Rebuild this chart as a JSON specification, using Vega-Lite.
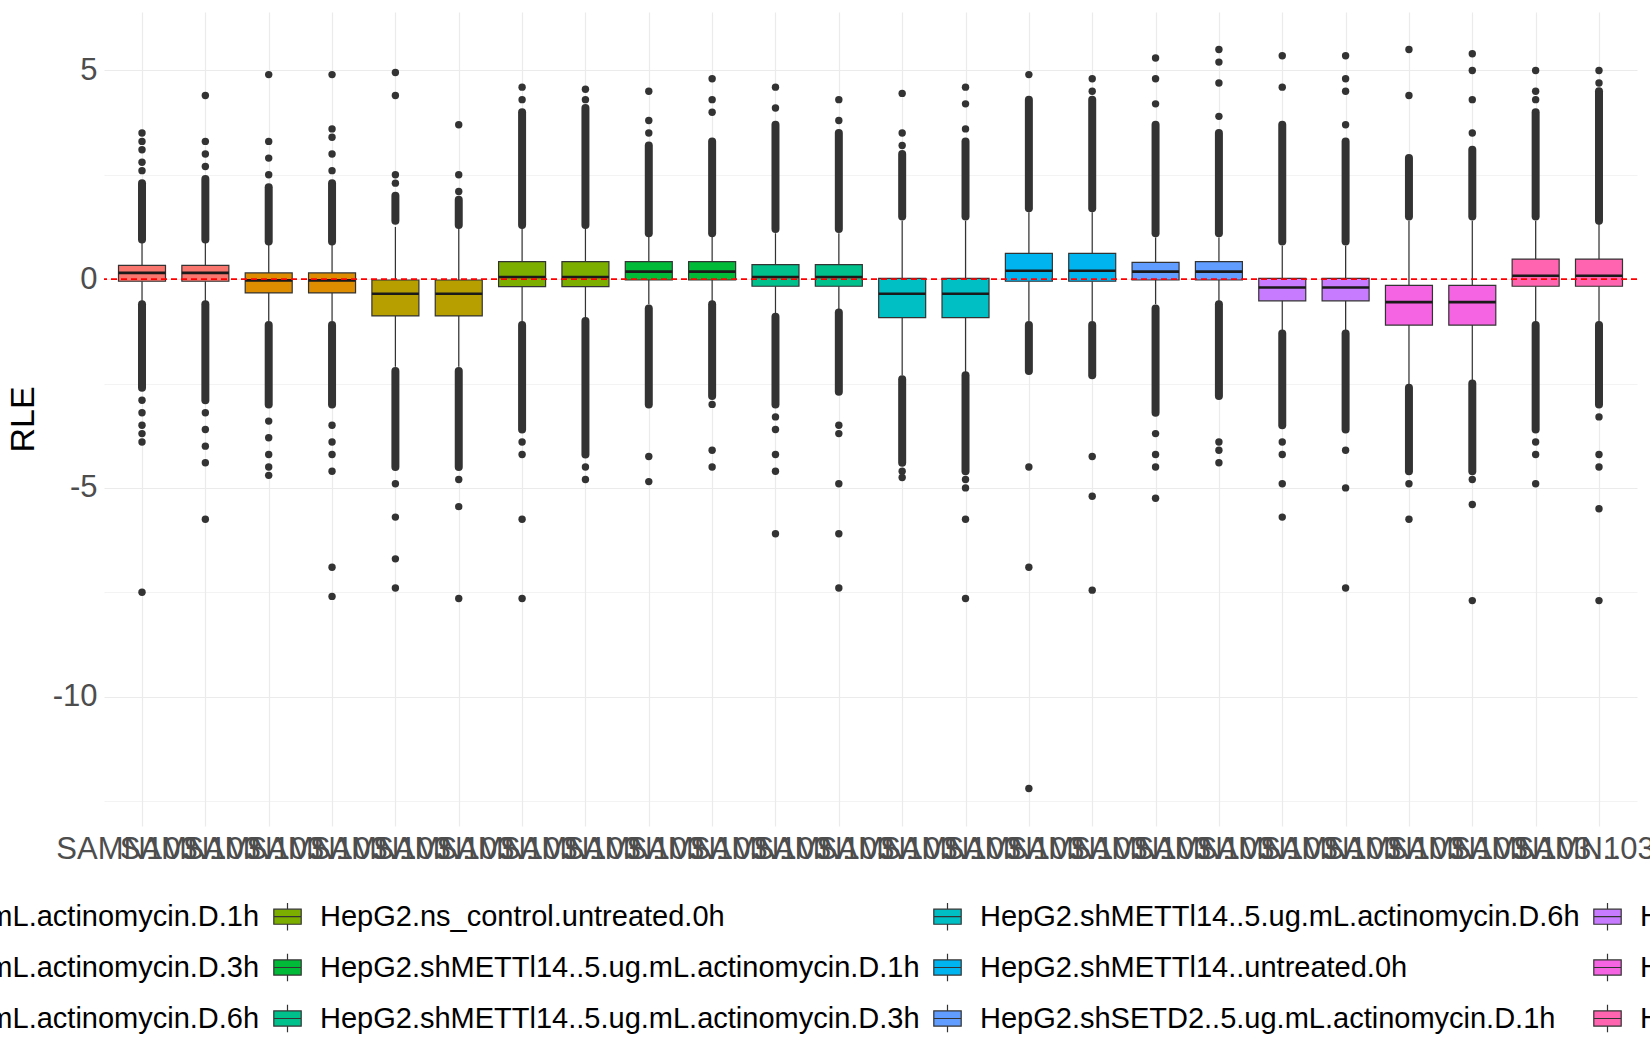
{
  "$schema": "https://vega.github.io/schema/vega-lite/v6.json",
  "width": 1533,
  "height": 814,
  "autosize": {"type": "none"},
  "padding": {"left": 104, "top": 12, "right": 13, "bottom": 224},
  "background": "white",
  "config": {
    "font": "Liberation Sans",
    "view": {"stroke": null}
  },
  "datasets": {
    "stats": [
      {"sample": "SAMN1033590101", "group": "HepG2.ns_control..5.ug.mL.actinomycin.D.1h", "lo": -0.55, "q1": -0.05, "med": 0.15, "q3": 0.33, "hi": 0.9},
      {"sample": "SAMN1033590102", "group": "HepG2.ns_control..5.ug.mL.actinomycin.D.1h", "lo": -0.55, "q1": -0.05, "med": 0.15, "q3": 0.33, "hi": 0.9},
      {"sample": "SAMN1033590103", "group": "HepG2.ns_control..5.ug.mL.actinomycin.D.3h", "lo": -1.0, "q1": -0.33, "med": -0.03, "q3": 0.15, "hi": 0.85},
      {"sample": "SAMN1033590104", "group": "HepG2.ns_control..5.ug.mL.actinomycin.D.3h", "lo": -1.0, "q1": -0.33, "med": -0.03, "q3": 0.15, "hi": 0.85},
      {"sample": "SAMN1033590105", "group": "HepG2.ns_control..5.ug.mL.actinomycin.D.6h", "lo": -2.1, "q1": -0.88, "med": -0.35, "q3": -0.02, "hi": 1.25},
      {"sample": "SAMN1033590106", "group": "HepG2.ns_control..5.ug.mL.actinomycin.D.6h", "lo": -2.1, "q1": -0.88, "med": -0.35, "q3": -0.02, "hi": 1.25},
      {"sample": "SAMN1033590107", "group": "HepG2.ns_control.untreated.0h", "lo": -1.05, "q1": -0.18, "med": 0.05, "q3": 0.42, "hi": 1.3},
      {"sample": "SAMN1033590108", "group": "HepG2.ns_control.untreated.0h", "lo": -1.0, "q1": -0.18, "med": 0.05, "q3": 0.42, "hi": 1.3},
      {"sample": "SAMN1033590109", "group": "HepG2.shMETTl14..5.ug.mL.actinomycin.D.1h", "lo": -0.6, "q1": -0.02, "med": 0.18, "q3": 0.42, "hi": 1.05},
      {"sample": "SAMN1033590110", "group": "HepG2.shMETTl14..5.ug.mL.actinomycin.D.1h", "lo": -0.6, "q1": -0.02, "med": 0.18, "q3": 0.42, "hi": 1.05},
      {"sample": "SAMN1033590111", "group": "HepG2.shMETTl14..5.ug.mL.actinomycin.D.3h", "lo": -0.9, "q1": -0.17, "med": 0.05, "q3": 0.35, "hi": 1.1},
      {"sample": "SAMN1033590112", "group": "HepG2.shMETTl14..5.ug.mL.actinomycin.D.3h", "lo": -0.8, "q1": -0.17, "med": 0.05, "q3": 0.35, "hi": 1.1},
      {"sample": "SAMN1033590113", "group": "HepG2.shMETTl14..5.ug.mL.actinomycin.D.6h", "lo": -2.3, "q1": -0.92, "med": -0.35, "q3": 0.02, "hi": 1.4},
      {"sample": "SAMN1033590114", "group": "HepG2.shMETTl14..5.ug.mL.actinomycin.D.6h", "lo": -2.3, "q1": -0.92, "med": -0.35, "q3": 0.02, "hi": 1.4},
      {"sample": "SAMN1033590115", "group": "HepG2.shMETTl14..untreated.0h", "lo": -1.0, "q1": -0.05, "med": 0.2, "q3": 0.62, "hi": 1.6},
      {"sample": "SAMN1033590116", "group": "HepG2.shMETTl14..untreated.0h", "lo": -1.0, "q1": -0.05, "med": 0.2, "q3": 0.62, "hi": 1.6},
      {"sample": "SAMN1033590117", "group": "HepG2.shSETD2..5.ug.mL.actinomycin.D.1h", "lo": -0.6, "q1": -0.02, "med": 0.18, "q3": 0.4, "hi": 1.0},
      {"sample": "SAMN1033590118", "group": "HepG2.shSETD2..5.ug.mL.actinomycin.D.1h", "lo": -0.6, "q1": -0.02, "med": 0.18, "q3": 0.42, "hi": 1.0},
      {"sample": "SAMN1033590119", "group": "HepG2.shSETD2..5.ug.mL.actinomycin.D.3h", "lo": -1.3, "q1": -0.52, "med": -0.2, "q3": 0.02, "hi": 0.8},
      {"sample": "SAMN1033590120", "group": "HepG2.shSETD2..5.ug.mL.actinomycin.D.3h", "lo": -1.3, "q1": -0.52, "med": -0.2, "q3": 0.02, "hi": 0.8},
      {"sample": "SAMN1033590121", "group": "HepG2.shSETD2..5.ug.mL.actinomycin.D.6h", "lo": -2.55, "q1": -1.1, "med": -0.55, "q3": -0.15, "hi": 1.4},
      {"sample": "SAMN1033590122", "group": "HepG2.shSETD2..5.ug.mL.actinomycin.D.6h", "lo": -2.5, "q1": -1.1, "med": -0.55, "q3": -0.15, "hi": 1.4},
      {"sample": "SAMN1033590123", "group": "HepG2.shSETD2..untreated.0h", "lo": -1.1, "q1": -0.17, "med": 0.08, "q3": 0.48, "hi": 1.4},
      {"sample": "SAMN1033590124", "group": "HepG2.shSETD2..untreated.0h", "lo": -1.1, "q1": -0.17, "med": 0.08, "q3": 0.48, "hi": 1.4}
    ],
    "bands": [
      {"sample": "SAMN1033590101", "a": 0.95, "b": 2.3}, {"sample": "SAMN1033590101", "a": -0.6, "b": -2.6},
      {"sample": "SAMN1033590102", "a": 0.95, "b": 2.4}, {"sample": "SAMN1033590102", "a": -0.6, "b": -2.9},
      {"sample": "SAMN1033590103", "a": 0.9, "b": 2.2}, {"sample": "SAMN1033590103", "a": -1.1, "b": -3.0},
      {"sample": "SAMN1033590104", "a": 0.9, "b": 2.3}, {"sample": "SAMN1033590104", "a": -1.1, "b": -3.0},
      {"sample": "SAMN1033590105", "a": 1.4, "b": 2.0}, {"sample": "SAMN1033590105", "a": -2.2, "b": -4.5},
      {"sample": "SAMN1033590106", "a": 1.3, "b": 1.9}, {"sample": "SAMN1033590106", "a": -2.2, "b": -4.5},
      {"sample": "SAMN1033590107", "a": 1.3, "b": 4.0}, {"sample": "SAMN1033590107", "a": -1.1, "b": -3.6},
      {"sample": "SAMN1033590108", "a": 1.3, "b": 4.1}, {"sample": "SAMN1033590108", "a": -1.0, "b": -4.2},
      {"sample": "SAMN1033590109", "a": 1.1, "b": 3.2}, {"sample": "SAMN1033590109", "a": -0.7, "b": -3.0},
      {"sample": "SAMN1033590110", "a": 1.1, "b": 3.3}, {"sample": "SAMN1033590110", "a": -0.6, "b": -2.8},
      {"sample": "SAMN1033590111", "a": 1.2, "b": 3.7}, {"sample": "SAMN1033590111", "a": -0.9, "b": -3.0},
      {"sample": "SAMN1033590112", "a": 1.2, "b": 3.5}, {"sample": "SAMN1033590112", "a": -0.8, "b": -2.7},
      {"sample": "SAMN1033590113", "a": 1.5, "b": 3.0}, {"sample": "SAMN1033590113", "a": -2.4, "b": -4.4},
      {"sample": "SAMN1033590114", "a": 1.5, "b": 3.3}, {"sample": "SAMN1033590114", "a": -2.3, "b": -4.6},
      {"sample": "SAMN1033590115", "a": 1.7, "b": 4.3}, {"sample": "SAMN1033590115", "a": -1.1, "b": -2.2},
      {"sample": "SAMN1033590116", "a": 1.7, "b": 4.3}, {"sample": "SAMN1033590116", "a": -1.1, "b": -2.3},
      {"sample": "SAMN1033590117", "a": 1.1, "b": 3.7}, {"sample": "SAMN1033590117", "a": -0.7, "b": -3.2},
      {"sample": "SAMN1033590118", "a": 1.1, "b": 3.5}, {"sample": "SAMN1033590118", "a": -0.6, "b": -2.8},
      {"sample": "SAMN1033590119", "a": 0.9, "b": 3.7}, {"sample": "SAMN1033590119", "a": -1.3, "b": -3.5},
      {"sample": "SAMN1033590120", "a": 0.9, "b": 3.3}, {"sample": "SAMN1033590120", "a": -1.3, "b": -3.6},
      {"sample": "SAMN1033590121", "a": 1.5, "b": 2.9}, {"sample": "SAMN1033590121", "a": -2.6, "b": -4.6},
      {"sample": "SAMN1033590122", "a": 1.5, "b": 3.1}, {"sample": "SAMN1033590122", "a": -2.5, "b": -4.6},
      {"sample": "SAMN1033590123", "a": 1.5, "b": 4.0}, {"sample": "SAMN1033590123", "a": -1.1, "b": -3.6},
      {"sample": "SAMN1033590124", "a": 1.4, "b": 4.5}, {"sample": "SAMN1033590124", "a": -1.1, "b": -3.0}
    ],
    "outliers": [
      {"sample": "SAMN1033590101", "v": 2.6}, {"sample": "SAMN1033590101", "v": 2.8}, {"sample": "SAMN1033590101", "v": 3.1}, {"sample": "SAMN1033590101", "v": 3.3}, {"sample": "SAMN1033590101", "v": 3.5},
      {"sample": "SAMN1033590101", "v": -2.9}, {"sample": "SAMN1033590101", "v": -3.2}, {"sample": "SAMN1033590101", "v": -3.5}, {"sample": "SAMN1033590101", "v": -3.7}, {"sample": "SAMN1033590101", "v": -3.9}, {"sample": "SAMN1033590101", "v": -7.5},
      {"sample": "SAMN1033590102", "v": 2.7}, {"sample": "SAMN1033590102", "v": 3.0}, {"sample": "SAMN1033590102", "v": 3.3}, {"sample": "SAMN1033590102", "v": 4.4},
      {"sample": "SAMN1033590102", "v": -3.2}, {"sample": "SAMN1033590102", "v": -3.6}, {"sample": "SAMN1033590102", "v": -4.0}, {"sample": "SAMN1033590102", "v": -4.4}, {"sample": "SAMN1033590102", "v": -5.75},
      {"sample": "SAMN1033590103", "v": 2.5}, {"sample": "SAMN1033590103", "v": 2.9}, {"sample": "SAMN1033590103", "v": 3.3}, {"sample": "SAMN1033590103", "v": 4.9},
      {"sample": "SAMN1033590103", "v": -3.4}, {"sample": "SAMN1033590103", "v": -3.8}, {"sample": "SAMN1033590103", "v": -4.2}, {"sample": "SAMN1033590103", "v": -4.5}, {"sample": "SAMN1033590103", "v": -4.7},
      {"sample": "SAMN1033590104", "v": 2.6}, {"sample": "SAMN1033590104", "v": 3.0}, {"sample": "SAMN1033590104", "v": 3.4}, {"sample": "SAMN1033590104", "v": 3.6}, {"sample": "SAMN1033590104", "v": 4.9},
      {"sample": "SAMN1033590104", "v": -3.5}, {"sample": "SAMN1033590104", "v": -3.9}, {"sample": "SAMN1033590104", "v": -4.2}, {"sample": "SAMN1033590104", "v": -4.6}, {"sample": "SAMN1033590104", "v": -6.9}, {"sample": "SAMN1033590104", "v": -7.6},
      {"sample": "SAMN1033590105", "v": 2.3}, {"sample": "SAMN1033590105", "v": 2.5}, {"sample": "SAMN1033590105", "v": 4.4}, {"sample": "SAMN1033590105", "v": 4.95},
      {"sample": "SAMN1033590105", "v": -4.9}, {"sample": "SAMN1033590105", "v": -5.7}, {"sample": "SAMN1033590105", "v": -6.7}, {"sample": "SAMN1033590105", "v": -7.4},
      {"sample": "SAMN1033590106", "v": 2.1}, {"sample": "SAMN1033590106", "v": 2.5}, {"sample": "SAMN1033590106", "v": 3.7},
      {"sample": "SAMN1033590106", "v": -4.8}, {"sample": "SAMN1033590106", "v": -5.45}, {"sample": "SAMN1033590106", "v": -7.65},
      {"sample": "SAMN1033590107", "v": 4.3}, {"sample": "SAMN1033590107", "v": 4.6},
      {"sample": "SAMN1033590107", "v": -3.9}, {"sample": "SAMN1033590107", "v": -4.2}, {"sample": "SAMN1033590107", "v": -5.75}, {"sample": "SAMN1033590107", "v": -7.65},
      {"sample": "SAMN1033590108", "v": 4.3}, {"sample": "SAMN1033590108", "v": 4.55},
      {"sample": "SAMN1033590108", "v": -4.5}, {"sample": "SAMN1033590108", "v": -4.8},
      {"sample": "SAMN1033590109", "v": 3.5}, {"sample": "SAMN1033590109", "v": 3.8}, {"sample": "SAMN1033590109", "v": 4.5},
      {"sample": "SAMN1033590109", "v": -4.25}, {"sample": "SAMN1033590109", "v": -4.85},
      {"sample": "SAMN1033590110", "v": 4.0}, {"sample": "SAMN1033590110", "v": 4.3}, {"sample": "SAMN1033590110", "v": 4.8},
      {"sample": "SAMN1033590110", "v": -3.0}, {"sample": "SAMN1033590110", "v": -4.1}, {"sample": "SAMN1033590110", "v": -4.5},
      {"sample": "SAMN1033590111", "v": 4.1}, {"sample": "SAMN1033590111", "v": 4.6},
      {"sample": "SAMN1033590111", "v": -3.3}, {"sample": "SAMN1033590111", "v": -3.6}, {"sample": "SAMN1033590111", "v": -4.2}, {"sample": "SAMN1033590111", "v": -4.6}, {"sample": "SAMN1033590111", "v": -6.1},
      {"sample": "SAMN1033590112", "v": 3.8}, {"sample": "SAMN1033590112", "v": 4.3},
      {"sample": "SAMN1033590112", "v": -3.5}, {"sample": "SAMN1033590112", "v": -3.7}, {"sample": "SAMN1033590112", "v": -4.9}, {"sample": "SAMN1033590112", "v": -6.1}, {"sample": "SAMN1033590112", "v": -7.4},
      {"sample": "SAMN1033590113", "v": 3.2}, {"sample": "SAMN1033590113", "v": 3.5}, {"sample": "SAMN1033590113", "v": 4.45},
      {"sample": "SAMN1033590113", "v": -4.6}, {"sample": "SAMN1033590113", "v": -4.75},
      {"sample": "SAMN1033590114", "v": 3.6}, {"sample": "SAMN1033590114", "v": 4.2}, {"sample": "SAMN1033590114", "v": 4.6},
      {"sample": "SAMN1033590114", "v": -4.8}, {"sample": "SAMN1033590114", "v": -5.0}, {"sample": "SAMN1033590114", "v": -5.75}, {"sample": "SAMN1033590114", "v": -7.65},
      {"sample": "SAMN1033590115", "v": 4.9},
      {"sample": "SAMN1033590115", "v": -4.5}, {"sample": "SAMN1033590115", "v": -6.9}, {"sample": "SAMN1033590115", "v": -12.2},
      {"sample": "SAMN1033590116", "v": 4.5}, {"sample": "SAMN1033590116", "v": 4.8},
      {"sample": "SAMN1033590116", "v": -4.25}, {"sample": "SAMN1033590116", "v": -5.2}, {"sample": "SAMN1033590116", "v": -7.45},
      {"sample": "SAMN1033590117", "v": 4.2}, {"sample": "SAMN1033590117", "v": 4.8}, {"sample": "SAMN1033590117", "v": 5.3},
      {"sample": "SAMN1033590117", "v": -3.7}, {"sample": "SAMN1033590117", "v": -4.2}, {"sample": "SAMN1033590117", "v": -4.5}, {"sample": "SAMN1033590117", "v": -5.25},
      {"sample": "SAMN1033590118", "v": 3.9}, {"sample": "SAMN1033590118", "v": 4.7}, {"sample": "SAMN1033590118", "v": 5.2}, {"sample": "SAMN1033590118", "v": 5.5},
      {"sample": "SAMN1033590118", "v": -3.9}, {"sample": "SAMN1033590118", "v": -4.1}, {"sample": "SAMN1033590118", "v": -4.4},
      {"sample": "SAMN1033590119", "v": 4.6}, {"sample": "SAMN1033590119", "v": 5.35},
      {"sample": "SAMN1033590119", "v": -3.9}, {"sample": "SAMN1033590119", "v": -4.2}, {"sample": "SAMN1033590119", "v": -4.9}, {"sample": "SAMN1033590119", "v": -5.7},
      {"sample": "SAMN1033590120", "v": 3.7}, {"sample": "SAMN1033590120", "v": 4.5}, {"sample": "SAMN1033590120", "v": 4.8}, {"sample": "SAMN1033590120", "v": 5.35},
      {"sample": "SAMN1033590120", "v": -4.1}, {"sample": "SAMN1033590120", "v": -5.0}, {"sample": "SAMN1033590120", "v": -7.4},
      {"sample": "SAMN1033590121", "v": 4.4}, {"sample": "SAMN1033590121", "v": 5.5},
      {"sample": "SAMN1033590121", "v": -4.9}, {"sample": "SAMN1033590121", "v": -5.75},
      {"sample": "SAMN1033590122", "v": 3.5}, {"sample": "SAMN1033590122", "v": 4.3}, {"sample": "SAMN1033590122", "v": 5.0}, {"sample": "SAMN1033590122", "v": 5.4},
      {"sample": "SAMN1033590122", "v": -4.8}, {"sample": "SAMN1033590122", "v": -5.4}, {"sample": "SAMN1033590122", "v": -7.7},
      {"sample": "SAMN1033590123", "v": 4.3}, {"sample": "SAMN1033590123", "v": 4.5}, {"sample": "SAMN1033590123", "v": 5.0},
      {"sample": "SAMN1033590123", "v": -3.9}, {"sample": "SAMN1033590123", "v": -4.2}, {"sample": "SAMN1033590123", "v": -4.9},
      {"sample": "SAMN1033590124", "v": 4.7}, {"sample": "SAMN1033590124", "v": 5.0},
      {"sample": "SAMN1033590124", "v": -3.3}, {"sample": "SAMN1033590124", "v": -4.2}, {"sample": "SAMN1033590124", "v": -4.5}, {"sample": "SAMN1033590124", "v": -5.5}, {"sample": "SAMN1033590124", "v": -7.7}
    ]
  },
  "layer": [
    {
      "data": {"name": "stats"},
      "mark": {"type": "rule", "color": "#333333", "strokeWidth": 1.2},
      "encoding": {
        "x": {
          "field": "sample", "type": "nominal", "sort": null,
          "scale": {"type": "point", "padding": 0.6},
          "axis": {
            "title": null, "domain": false, "ticks": false, "labelAngle": 0,
            "labelFontSize": 31, "labelColor": "#4D4D4D", "labelPadding": 8,
            "labelOverlap": false, "labelBound": false,
            "grid": true, "gridColor": "#EBEBEB", "gridWidth": 1.2
          }
        },
        "y": {
          "field": "lo", "type": "quantitative",
          "scale": {"domain": [-13.1, 6.4], "nice": false, "zero": false},
          "axis": {
            "title": "RLE", "titleFontSize": 34, "titleColor": "black", "titleFontWeight": "normal", "titlePadding": 12,
            "domain": false, "ticks": false,
            "values": [-12.5, -10, -7.5, -5, -2.5, 0, 2.5, 5],
            "labelExpr": "datum.value % 5 === 0 ? toString(datum.value) : ''",
            "labelFontSize": 31, "labelColor": "#4D4D4D", "labelPadding": 7,
            "grid": true, "gridColor": "#EBEBEB",
            "gridWidth": {"condition": {"test": "datum.value % 5 === 0", "value": 1.2}, "value": 0.6}
          }
        },
        "y2": {"field": "q1"}
      }
    },
    {
      "data": {"name": "stats"},
      "mark": {"type": "rule", "color": "#333333", "strokeWidth": 1.2},
      "encoding": {
        "x": {"field": "sample", "type": "nominal", "sort": null},
        "y": {"field": "q3", "type": "quantitative"},
        "y2": {"field": "hi"}
      }
    },
    {
      "data": {"name": "bands"},
      "mark": {"type": "rule", "color": "#333333", "strokeWidth": 8, "strokeCap": "round"},
      "encoding": {
        "x": {"field": "sample", "type": "nominal", "sort": null},
        "y": {"field": "a", "type": "quantitative"},
        "y2": {"field": "b"}
      }
    },
    {
      "data": {"name": "outliers"},
      "mark": {"type": "circle", "color": "#333333", "size": 55, "opacity": 1},
      "encoding": {
        "x": {"field": "sample", "type": "nominal", "sort": null},
        "y": {"field": "v", "type": "quantitative"}
      }
    },
    {
      "data": {"name": "stats"},
      "mark": {"type": "bar", "size": 47, "stroke": "#333333", "strokeWidth": 1.2},
      "encoding": {
        "x": {"field": "sample", "type": "nominal", "sort": null},
        "y": {"field": "q1", "type": "quantitative"},
        "y2": {"field": "q3"},
        "fill": {
          "field": "group", "type": "nominal",
          "scale": {
            "domain": [
              "HepG2.ns_control..5.ug.mL.actinomycin.D.1h", "HepG2.ns_control.untreated.0h", "HepG2.shMETTl14..5.ug.mL.actinomycin.D.6h", "HepG2.shSETD2..5.ug.mL.actinomycin.D.3h",
              "HepG2.ns_control..5.ug.mL.actinomycin.D.3h", "HepG2.shMETTl14..5.ug.mL.actinomycin.D.1h", "HepG2.shMETTl14..untreated.0h", "HepG2.shSETD2..5.ug.mL.actinomycin.D.6h",
              "HepG2.ns_control..5.ug.mL.actinomycin.D.6h", "HepG2.shMETTl14..5.ug.mL.actinomycin.D.3h", "HepG2.shSETD2..5.ug.mL.actinomycin.D.1h", "HepG2.shSETD2..untreated.0h"
            ],
            "range": ["#F8766D", "#7CAE00", "#00BFC4", "#C77CFF", "#DE8C00", "#00BA38", "#00B4F0", "#F564E3", "#B79F00", "#00C08B", "#619CFF", "#FF64B0"]
          },
          "legend": {
            "title": null, "orient": "none", "legendX": -477, "legendY": 890,
            "direction": "horizontal", "columns": 4, "columnPadding": 11, "rowPadding": 18,
            "gridAlign": "each",
            "symbolType": "M-1,-0.55H1V0.55H-1Z M-1,0H1 M0,-0.55V-1 M0,0.55V1",
            "symbolSize": 750, "symbolStrokeColor": "#333333", "symbolStrokeWidth": 1.2, "symbolOpacity": 1,
            "labelFontSize": 29, "labelColor": "black", "labelOffset": 18, "labelLimit": 0
          }
        }
      }
    },
    {
      "data": {"name": "stats"},
      "mark": {"type": "tick", "size": 47, "thickness": 2.6, "color": "#1A1A1A", "opacity": 1},
      "encoding": {
        "x": {"field": "sample", "type": "nominal", "sort": null},
        "y": {"field": "med", "type": "quantitative"}
      }
    },
    {
      "data": {"values": [{"ref": 0}]},
      "mark": {"type": "rule", "color": "red", "strokeWidth": 1.6, "strokeDash": [6, 4]},
      "encoding": {
        "y": {"field": "ref", "type": "quantitative"}
      }
    }
  ]
}
